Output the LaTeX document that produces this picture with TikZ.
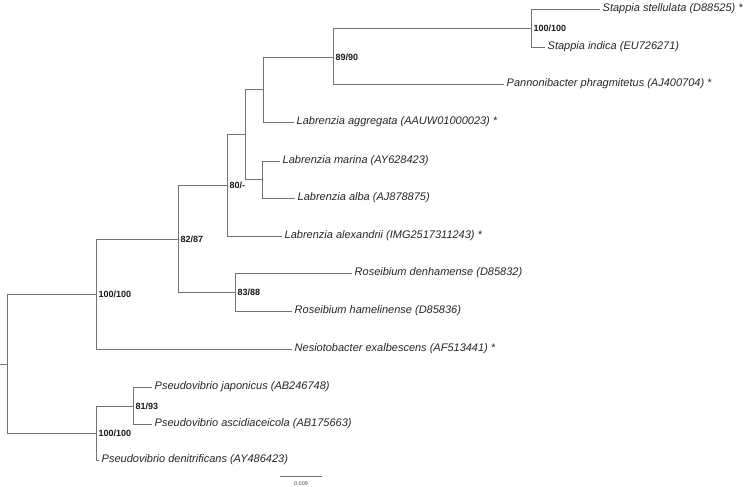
\documentclass[tikz,border=0pt]{standalone}
\usepackage{fontspec}
\setmainfont{Liberation Sans}
\usetikzlibrary{positioning}

\begin{document}
\begin{tikzpicture}[x=1pt,y=-1pt,
  branch/.style={draw=black!55,line width=0.8pt},
  taxon/.style={anchor=west,inner xsep=2.5pt,inner ysep=1pt,text=black!85,font=\fontsize{11}{13}\selectfont\itshape},
  boot/.style={anchor=west,inner xsep=2.5pt,inner ysep=1pt,text=black!90,font=\fontsize{9}{10}\selectfont\bfseries}]
\useasboundingbox (0,0) rectangle (750,487);

% Taxa
\node[taxon] (sst) at (600,9) {Stappia stellulata (D88525) *};
\node[taxon] (sin) at (545,47) {Stappia indica (EU726271)};
\node[taxon] (pph) at (504,84) {Pannonibacter phragmitetus (AJ400704) *};
\node[taxon] (lag) at (294,122) {Labrenzia aggregata (AAUW01000023) *};
\node[taxon] (lma) at (280,161) {Labrenzia marina (AY628423)};
\node[taxon] (lal) at (295,198) {Labrenzia alba (AJ878875)};
\node[taxon] (lax) at (282,236) {Labrenzia alexandrii (IMG2517311243) *};
\node[taxon] (rde) at (352,273) {Roseibium denhamense (D85832)};
\node[taxon] (rha) at (292,311) {Roseibium hamelinense (D85836)};
\node[taxon] (nex) at (292,349) {Nesiotobacter exalbescens (AF513441) *};
\node[taxon] (pja) at (152,387) {Pseudovibrio japonicus (AB246748)};
\node[taxon] (pas) at (152,424) {Pseudovibrio ascidiaceicola (AB175663)};
\node[taxon] (pde) at (99,460) {Pseudovibrio denitrificans (AY486423)};

% Internal nodes
\coordinate (nst) at (531,28); \coordinate (n89) at (333,57); \coordinate (nla) at (263,89);
\coordinate (nlm) at (262,179); \coordinate (nlb) at (245,134); \coordinate (n80) at (227,185);
\coordinate (n83) at (235,292); \coordinate (n82) at (178,239); \coordinate (nup) at (96,294);
\coordinate (n81) at (133,406); \coordinate (nlo) at (96,433); \coordinate (root) at (7,364);
\coordinate (stub) at (0,364);

% Branches
\draw[branch] (nst) |- (sst.west); \draw[branch] (nst) |- (sin.west);
\draw[branch] (n89) |- (nst); \draw[branch] (n89) |- (pph.west);
\draw[branch] (nla) |- (n89); \draw[branch] (nla) |- (lag.west);
\draw[branch] (nlm) |- (lma.west); \draw[branch] (nlm) |- (lal.west);
\draw[branch] (nlb) |- (nla); \draw[branch] (nlb) |- (nlm);
\draw[branch] (n80) |- (nlb); \draw[branch] (n80) |- (lax.west);
\draw[branch] (n83) |- (rde.west); \draw[branch] (n83) |- (rha.west);
\draw[branch] (n82) |- (n80); \draw[branch] (n82) |- (n83);
\draw[branch] (nup) |- (n82); \draw[branch] (nup) |- (nex.west);
\draw[branch] (n81) |- (pja.west); \draw[branch] (n81) |- (pas.west);
\draw[branch] (nlo) |- (n81); \draw[branch] (nlo) |- (pde.west);
\draw[branch] (root) |- (nup); \draw[branch] (root) |- (nlo);
\draw[branch] (stub) -- (root);

% Bootstrap values
\node[boot] (bst) at (nst) {100/100}; \node[boot] (b89) at (n89) {89/90};
\node[boot] (b80) at (n80) {80/-}; \node[boot] (b82) at (n82) {82/87};
\node[boot] (b83) at (n83) {83/88}; \node[boot] (bup) at (nup) {100/100};
\node[boot] (b81) at (n81) {81/93}; \node[boot] (blo) at (nlo) {100/100};

% Scale bar
\coordinate (sbl) at (280,476); \coordinate (sbr) at (322,476);
\draw[branch] (sbl) -- (sbr);
\node[font=\fontsize{5.5}{6}\selectfont,text=black!70,inner sep=0pt] (sbt) at (301,484) {0.009};
\end{tikzpicture}
\end{document}
